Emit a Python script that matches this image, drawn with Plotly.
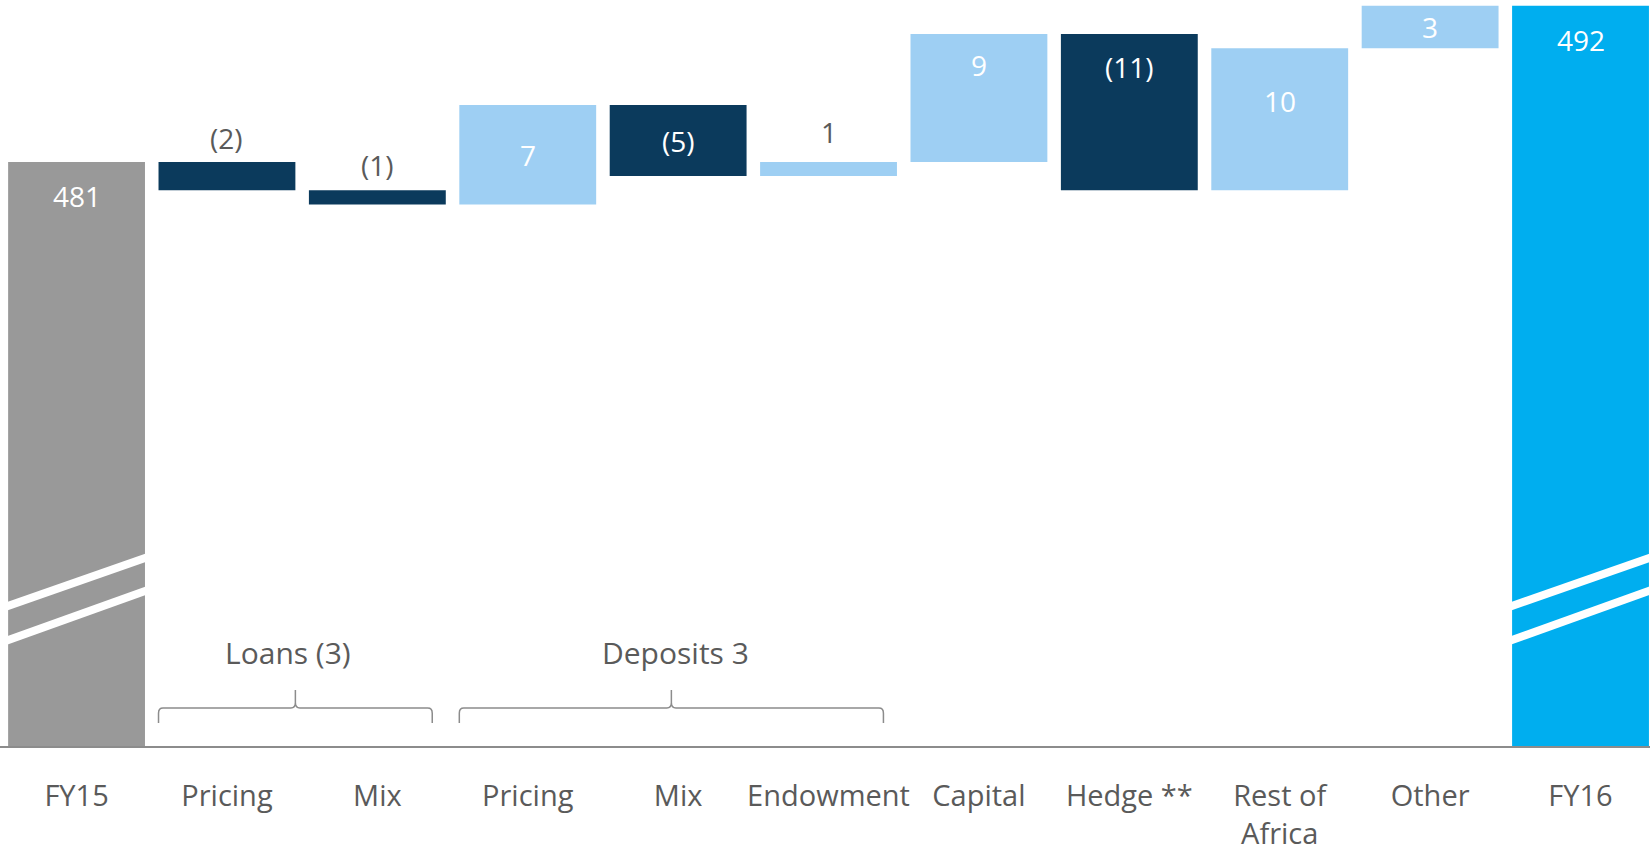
import plotly.graph_objects as go

# Net interest margin bridge, FY15 -> FY16
categories = ["FY15", "Pricing", "Mix", "Pricing", "Mix", "Endowment",
              "Capital", "Hedge **", "Rest of<br>Africa", "Other", "FY16"]
start_total = 481
end_total = 492
deltas = [-2, -1, 7, -5, 1, 9, -11, 10, 3]

# Bracketed groups of movements: (name, first index, last index)
groups = [("Loans", 1, 2), ("Deposits", 3, 5)]

GREY = "#999999"
NAVY = "#0B3A5C"
LIGHT = "#9ECFF3"
BRIGHT = "#00AEEF"
TEXT = "#5A5A5A"
AXIS = "#8C8C8C"
FONT = "Open Sans"
WEIGHT = 400

n = len(categories)
xs = list(range(n))
BAR_W = 0.91


def fmt(v):
    return f"({abs(v)})" if v < 0 else f"{v}"


# running totals give the base of every movement bar
bases = []
running = start_total
for d in deltas:
    bases.append(running)
    running += d

fig = go.Figure()

fig.add_trace(go.Bar(x=[xs[0]], y=[start_total], base=[0], width=BAR_W,
                     marker=dict(color=GREY, line=dict(width=0)),
                     hoverinfo="skip"))
fig.add_trace(go.Bar(x=xs[1:-1], y=deltas, base=bases, width=BAR_W,
                     marker=dict(color=[NAVY if d < 0 else LIGHT for d in deltas],
                                 line=dict(width=0)),
                     hoverinfo="skip"))
fig.add_trace(go.Bar(x=[xs[-1]], y=[end_total], base=[0], width=BAR_W,
                     marker=dict(color=BRIGHT, line=dict(width=0)),
                     hoverinfo="skip"))

# value labels: (where, pixel shift) per bar
placement = [("top", -34), ("above", 24), ("above", 25), ("mid", 0), ("mid", 0),
             ("above", 30), ("top", -31), ("top", -33), ("top", -53), ("mid", 0),
             ("top", -34)]

tops = [start_total] + [max(b, b + d) for b, d in zip(bases, deltas)] + [end_total]
bottoms = [None] + [min(b, b + d) for b, d in zip(bases, deltas)] + [None]
values = [start_total] + deltas + [end_total]

annotations = []
for i, (v, top, bot) in enumerate(zip(values, tops, bottoms)):
    where, shift = placement[i]
    if where == "mid":
        y = (top + bot) / 2
    else:
        y = top
    inside = where != "above"
    annotations.append(dict(
        x=xs[i], y=y, xref="x", yref="y", text=fmt(v), showarrow=False,
        yshift=shift, yanchor="middle", xanchor="center",
        font=dict(family=FONT, size=28, weight=WEIGHT,
                  color="white" if inside else TEXT)))

shapes = []

# axis-break stripes across the two total bars
for i in (xs[0], xs[-1]):
    for y_left, y_right in ((0.1877, 0.2520), (0.1421, 0.2078)):
        x0 = i - BAR_W / 2
        x1 = i + BAR_W / 2
        shapes.append(dict(type="line", xref="x", yref="paper",
                           x0=x0 - 0.2, x1=x1 + 0.2,
                           y0=y_left - (y_right - y_left) * 0.2 / BAR_W,
                           y1=y_right + (y_right - y_left) * 0.2 / BAR_W,
                           line=dict(color="white", width=8), layer="above"))

# braces under grouped movements, with group totals
y_h, y_end, y_tip, y_lbl = 0.0509, 0.0308, 0.0750, 0.1247
rx, ry = 0.03, 0.007
label_nudge = {"Loans": -0.05, "Deposits": 0.03}
for name, a, b in groups:
    xl = a - BAR_W / 2
    xr = b + BAR_W / 2 - 0.09
    xc = (xl + xr) / 2
    path = (f"M {xl},{y_end} L {xl},{y_h - ry} Q {xl},{y_h} {xl + rx},{y_h} "
            f"L {xc - rx},{y_h} Q {xc},{y_h} {xc},{y_h + ry} L {xc},{y_tip} "
            f"M {xc},{y_h + ry} Q {xc},{y_h} {xc + rx},{y_h} "
            f"L {xr - rx},{y_h} Q {xr},{y_h} {xr},{y_h - ry} L {xr},{y_end}")
    shapes.append(dict(type="path", xref="x", yref="paper", path=path,
                       line=dict(color=AXIS, width=1.5)))
    total = sum(deltas[a - 1:b])
    annotations.append(dict(x=xc + label_nudge[name], y=y_lbl, xref="x",
                            yref="paper", text=f"{name} {fmt(total)}",
                            showarrow=False, yanchor="middle",
                            font=dict(family=FONT, size=30, weight=WEIGHT,
                                      color=TEXT)))

fig.update_layout(
    width=1650, height=850,
    margin=dict(l=0, r=0, t=0, b=104, autoexpand=False),
    paper_bgcolor="white", plot_bgcolor="white",
    showlegend=False, barmode="overlay",
    shapes=shapes, annotations=annotations,
    xaxis=dict(range=[-0.509, 10.462], tickmode="array", tickvals=xs,
               ticktext=categories, showgrid=False, zeroline=False,
               showline=True, linecolor=AXIS, linewidth=2, ticks="",
               ticklabelstandoff=23, automargin=False,
               tickfont=dict(family=FONT, size=29, weight=WEIGHT, color=TEXT)),
    yaxis=dict(range=[439.87, 492.4], visible=False, showgrid=False,
               zeroline=False, automargin=False),
)

fig.write_html("out.html")
